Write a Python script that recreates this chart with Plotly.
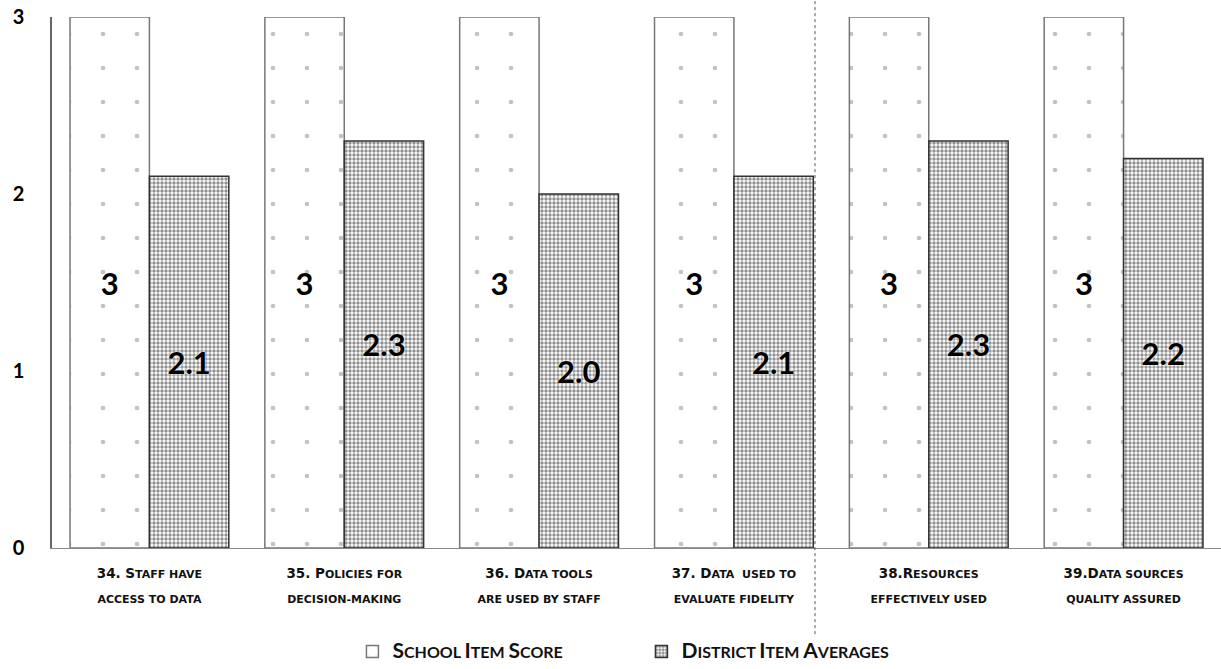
import plotly.graph_objects as go

# Item labels (first letters full caps, remaining letters set as small caps)
items_line1 = ["34. S|TAFF HAVE", "35. P|OLICIES FOR", "36. D|ATA TOOLS", "37. D|ATA  USED TO",
               "38.R|ESOURCES", "39.D|ATA SOURCES"]
items_line2 = ["ACCESS TO DATA", "DECISION-MAKING", "ARE USED BY STAFF", "EVALUATE FIDELITY",
               "EFFECTIVELY USED", "QUALITY ASSURED"]
school_scores = [3, 3, 3, 3, 3, 3]
district_avgs = [2.1, 2.3, 2.0, 2.1, 2.3, 2.2]
y_ticks = [0, 1, 2, 3]

FONT = "Lato, 'Open Sans', sans-serif"
LABEL_FONT = "'DejaVu Sans', sans-serif"


def small_caps(label, big=13.5, small=11):
    head, tail = label.split("|")
    return f"<span style='font-size:{big}px'>{head}</span><span style='font-size:{small}px'>{tail}</span>"


def legend_caps(words, big=21, small=16):
    return "<b>" + " ".join(
        f"<span style='font-size:{big}px'>{w[0]}</span><span style='font-size:{small}px'>{w[1:]}</span>"
        for w in words) + "</b>"


categories = [
    f"<b>{small_caps(a)}<br><span style='font-size:11px'>{b}</span></b>"
    for a, b in zip(items_line1, items_line2)
]

fig = go.Figure()
fig.add_trace(go.Bar(
    name=legend_caps(["SCHOOL", "ITEM", "SCORE"]),
    x=categories, y=school_scores,
    text=[f"<b>{v}</b>" for v in school_scores], textposition="inside", insidetextanchor="middle",
    textfont=dict(size=31, color="black", family=FONT),
    marker=dict(color="white", line=dict(color="#777", width=1.5),
                pattern=dict(shape=".", fgcolor="#888", bgcolor="white", size=34, solidity=0.015)),
))
fig.add_trace(go.Bar(
    name=legend_caps(["DISTRICT", "ITEM", "AVERAGES"]),
    x=categories, y=district_avgs,
    text=[f"<b>{v:.1f}</b>" for v in district_avgs], textposition="inside", insidetextanchor="middle",
    textfont=dict(size=31, color="black", family=FONT, shadow="0 0 3px white"),
    marker=dict(color="white", line=dict(color="#333", width=1.5),
                pattern=dict(shape=".", fgcolor="#222", bgcolor="white", size=4, solidity=0.58)),
))

fig.update_layout(
    width=1221, height=669,
    margin=dict(l=52, r=0, t=17, b=121),
    paper_bgcolor="white", plot_bgcolor="white",
    barmode="group", bargap=0.185, bargroupgap=0,
    font=dict(family=FONT, color="#111"),
    showlegend=True,
    legend=dict(orientation="h", x=0.257, xanchor="left", y=-0.195, yanchor="middle",
                font=dict(size=16, family=FONT, color="#111"), itemwidth=30,
                entrywidth=244, traceorder="normal"),
    xaxis=dict(showline=True, linecolor="#888", linewidth=1, ticks="",
               ticklabelstandoff=6,
               tickfont=dict(size=19, family=LABEL_FONT, color="#111")),
    yaxis=dict(range=[0, 3], tickvals=y_ticks, showgrid=False, zeroline=False,
               showline=True, linecolor="#666", linewidth=1.5, ticks="",
               ticklabelstandoff=22,
               tickfont=dict(size=20, family=FONT, color="black", weight="bold")),
)

# fold line running down the page
fig.add_shape(type="line", xref="paper", yref="paper", x0=0.6527, x1=0.6527, y0=-0.23, y1=1.04,
              line=dict(color="#555", width=1, dash="dot"))

fig.write_html("out.html")
